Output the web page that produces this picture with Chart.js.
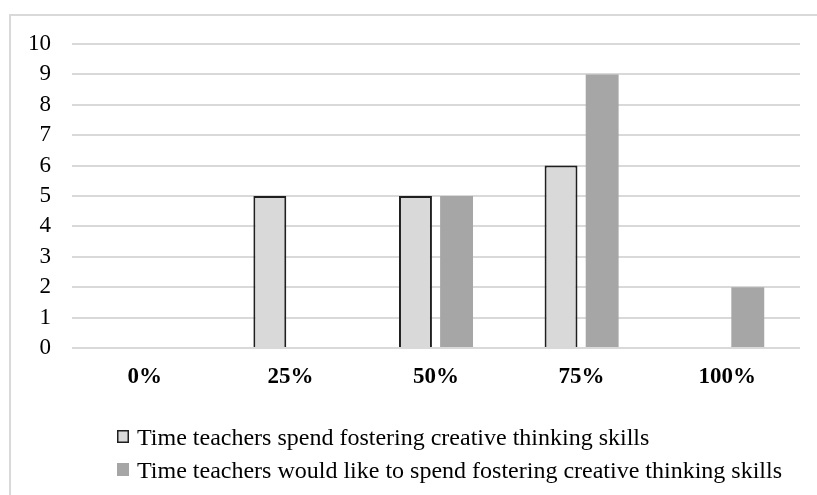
<!DOCTYPE html>
<html>
<head>
<meta charset="utf-8">
<script src="https://cdn.jsdelivr.net/npm/chart.js@4.4.1/dist/chart.umd.min.js"></script>
<style>
  html, body { margin: 0; padding: 0; background: #fff; overflow: hidden; }
  #wrap { position: relative; width: 817px; height: 495px; overflow: hidden; }
  #frame {
    position: absolute; left: 9px; top: 14px; width: 900px; height: 600px;
    border: 2px solid #d9d9d9; box-sizing: border-box;
  }
  #chart { position: absolute; left: 0; top: 0; }
</style>
</head>
<body>
<div id="wrap">
  <div id="frame"></div>
  <canvas id="chart" width="817" height="495"></canvas>
</div>
<script>
// categories and series
const categories = ['0%', '25%', '50%', '75%', '100%'];
const spendNow = [0, 5, 5, 6, 0];
const wouldLike = [0, 0, 5, 9, 2];
const yTicks = [0, 1, 2, 3, 4, 5, 6, 7, 8, 9, 10];

const seriesNames = [
    'Time teachers spend fostering creative thinking skills',
    'Time teachers would like to spend fostering creative thinking skills'
];

const serif = '"Liberation Serif", "Times New Roman", serif';

// legend stacked on the left under the axis
const stackedLegend = {
    id: 'stackedLegend',
    afterDraw(chart) {
        const ctx = chart.ctx;
        const top = chart.chartArea.bottom;
        const rows = [top + 97, top + 130];
        ctx.save();
        ctx.font = '24px ' + serif;
        ctx.textBaseline = 'alphabetic';
        chart.data.datasets.forEach((ds, i) => {
            const base = rows[i];
            const bx = 117, by = base - 15;
            ctx.fillStyle = ds.backgroundColor;
            ctx.fillRect(bx, by, 12, 13);
            if (ds.borderWidth) {
                ctx.strokeStyle = ds.borderColor;
                ctx.lineWidth = 1.5;
                ctx.strokeRect(bx + 0.75, by + 0.75, 10.5, 11.5);
            }
            ctx.fillStyle = '#000';
            ctx.fillText(ds.label, 137, base);
        });
        ctx.restore();
    }
};

new Chart(document.getElementById('chart'), {
    type: 'bar',
    data: {
        labels: categories,
        datasets: [{
            label: seriesNames[0],
            data: spendNow,
            backgroundColor: '#d9d9d9',
            borderColor: '#1f1f1f',
            borderWidth: 2
        }, {
            label: seriesNames[1],
            data: wouldLike,
            backgroundColor: '#a6a6a6',
            borderWidth: 0
        }]
    },
    options: {
        responsive: false,
        animation: false,
        layout: { padding: { left: 10, right: 17, top: 44, bottom: 87 } },
        datasets: {
            bar: { categoryPercentage: 0.565, barPercentage: 0.8 }
        },
        plugins: {
            legend: { display: false },
            tooltip: { enabled: false }
        },
        scales: {
            x: {
                grid: { display: false },
                border: { display: false },
                ticks: {
                    color: '#000',
                    padding: 7,
                    font: { family: serif, size: 23, weight: 'bold' }
                },
                afterFit(scale) { scale.height = 60; }
            },
            y: {
                min: 0,
                max: 10,
                afterBuildTicks(scale) {
                    scale.ticks = yTicks.map(v => ({ value: v }));
                },
                grid: { color: '#d9d9d9', lineWidth: 2, drawTicks: false },
                border: { display: false },
                ticks: {
                    autoSkip: false,
                    color: '#000',
                    padding: 21,
                    font: { family: serif, size: 23 }
                },
                afterFit(scale) { scale.width = 62; }
            }
        }
    },
    plugins: [stackedLegend]
});
</script>
</body>
</html>
